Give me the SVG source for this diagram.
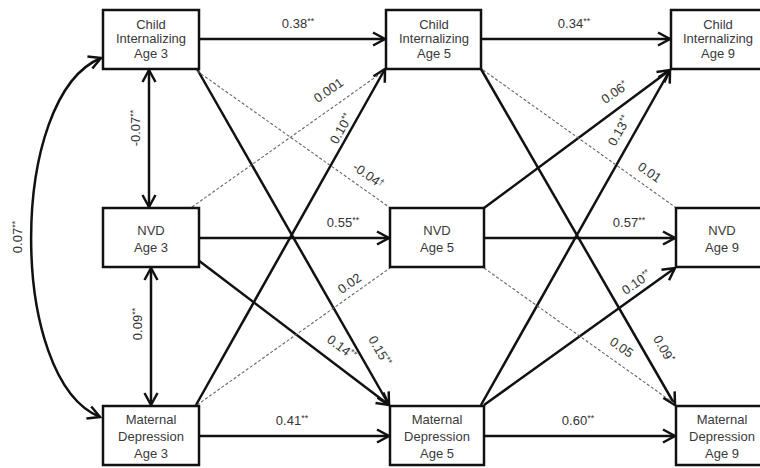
<svg xmlns="http://www.w3.org/2000/svg" width="760" height="468" viewBox="0 0 760 468">
<defs>
<style>
.box{fill:#fff;stroke:#111;stroke-width:2.5}
.bt{font-family:"Liberation Sans",Arial,sans-serif;font-size:13px;fill:#3a3a3a;text-anchor:middle}
.lb{font-family:"Liberation Sans",Arial,sans-serif;font-size:13px;fill:#333;text-anchor:middle}
.sp{font-size:9px}
.s{fill:none;stroke:#111;stroke-width:2.5}
.d{fill:none;stroke:#666;stroke-width:1.1;stroke-dasharray:3 2}
</style>
<marker id="ah" markerUnits="userSpaceOnUse" markerWidth="16" markerHeight="16" refX="13" refY="8" orient="auto-start-reverse">
<path d="M1,1.5 L13,8 L1,14.5" fill="none" stroke="#111" stroke-width="2.5"/>
</marker>
</defs>
<rect width="760" height="468" fill="#fff"/>

<g id="connectors">
<!-- horizontal -->
<line class="s" x1="199" y1="39" x2="385" y2="39" marker-end="url(#ah)"/>
<line class="s" x1="481" y1="39" x2="670" y2="39" marker-end="url(#ah)"/>
<line class="s" x1="199" y1="238" x2="389" y2="238" marker-end="url(#ah)"/>
<line class="s" x1="484" y1="238" x2="675" y2="238" marker-end="url(#ah)"/>
<line class="s" x1="199" y1="436" x2="389" y2="436" marker-end="url(#ah)"/>
<line class="s" x1="484" y1="436" x2="675" y2="436" marker-end="url(#ah)"/>
<!-- covariances -->
<line class="s" x1="149" y1="70" x2="149" y2="207" marker-start="url(#ah)" marker-end="url(#ah)"/>
<line class="s" x1="151" y1="268" x2="151" y2="405" marker-start="url(#ah)" marker-end="url(#ah)"/>
<path class="s" d="M101,58 C8,96 8,380 100,417" marker-start="url(#ah)" marker-end="url(#ah)"/>
<!-- cross-lagged age 3 -> 5 -->
<line class="s" x1="197" y1="69" x2="389" y2="405" marker-end="url(#ah)"/>
<line class="s" x1="196" y1="405" x2="385" y2="69" marker-end="url(#ah)"/>
<line class="s" x1="198" y1="260" x2="389" y2="405" marker-end="url(#ah)"/>
<line class="d" x1="197" y1="71" x2="389" y2="207"/>
<line class="d" x1="192" y1="207" x2="384" y2="71"/>
<line class="d" x1="197" y1="405" x2="390" y2="268"/>
<!-- cross-lagged age 5 -> 9 -->
<line class="s" x1="481" y1="69" x2="675" y2="405" marker-end="url(#ah)"/>
<line class="s" x1="484" y1="208" x2="670" y2="70" marker-end="url(#ah)"/>
<line class="s" x1="481" y1="405" x2="670" y2="70" marker-end="url(#ah)"/>
<line class="s" x1="484" y1="405" x2="675" y2="268" marker-end="url(#ah)"/>
<line class="d" x1="483" y1="70" x2="675" y2="207"/>
<line class="d" x1="484" y1="268" x2="675" y2="404"/>
</g>

<g id="labels">
<text class="lb" x="298" y="28">0.38<tspan class="sp" dy="-4">**</tspan></text>
<text class="lb" x="574" y="28">0.34<tspan class="sp" dy="-4">**</tspan></text>
<text class="lb" x="343" y="227">0.55<tspan class="sp" dy="-4">**</tspan></text>
<text class="lb" x="629" y="227">0.57<tspan class="sp" dy="-4">**</tspan></text>
<text class="lb" x="292" y="425">0.41<tspan class="sp" dy="-4">**</tspan></text>
<text class="lb" x="578" y="425">0.60<tspan class="sp" dy="-4">**</tspan></text>
<text class="lb" transform="translate(140,128) rotate(-90)">-0.07<tspan class="sp" dy="-4">**</tspan></text>
<text class="lb" transform="translate(142,324) rotate(-90)">0.09<tspan class="sp" dy="-4">**</tspan></text>
<text class="lb" transform="translate(22,237) rotate(-90)">0.07<tspan class="sp" dy="-4">**</tspan></text>
<text class="lb" transform="translate(331,94) rotate(-35)">0.001</text>
<text class="lb" transform="translate(345,131) rotate(-60)">0.10<tspan class="sp" dy="-4">**</tspan></text>
<text class="lb" transform="translate(366,179) rotate(35)">-0.04<tspan class="sp" dy="-3">†</tspan></text>
<text class="lb" transform="translate(352,287) rotate(-35)">0.02</text>
<text class="lb" transform="translate(339,351) rotate(37)">0.14<tspan class="sp" dy="-4">**</tspan></text>
<text class="lb" transform="translate(376,353) rotate(60)">0.15<tspan class="sp" dy="-4">**</tspan></text>
<text class="lb" transform="translate(617,96) rotate(-35)">0.06<tspan class="sp" dy="-4">*</tspan></text>
<text class="lb" transform="translate(623,133) rotate(-60)">0.13<tspan class="sp" dy="-4">**</tspan></text>
<text class="lb" transform="translate(647,176) rotate(35)">0.01</text>
<text class="lb" transform="translate(639,286) rotate(-35)">0.10<tspan class="sp" dy="-4">**</tspan></text>
<text class="lb" transform="translate(619,351) rotate(35)">0.05</text>
<text class="lb" transform="translate(660,351) rotate(60)">0.09<tspan class="sp" dy="-4">*</tspan></text>
</g>

<g id="ci3"><rect class="box" x="103" y="10" width="96" height="59"/>
<text class="bt" x="151" y="29">Child</text><text class="bt" x="151" y="43">Internalizing</text><text class="bt" x="151" y="58">Age 3</text></g>
<g id="ci5"><rect class="box" x="386" y="10" width="95" height="59"/>
<text class="bt" x="434" y="29">Child</text><text class="bt" x="434" y="43">Internalizing</text><text class="bt" x="434" y="58">Age 5</text></g>
<g id="ci9"><rect class="box" x="671" y="10" width="96" height="59"/>
<text class="bt" x="718" y="29">Child</text><text class="bt" x="718" y="43">Internalizing</text><text class="bt" x="718" y="58">Age 9</text></g>

<g id="nvd3"><rect class="box" x="103" y="208" width="96" height="59"/>
<text class="bt" x="151" y="235">NVD</text><text class="bt" x="151" y="252">Age 3</text></g>
<g id="nvd5"><rect class="box" x="390" y="208" width="94" height="59"/>
<text class="bt" x="437" y="235">NVD</text><text class="bt" x="437" y="252">Age 5</text></g>
<g id="nvd9"><rect class="box" x="676" y="208" width="94" height="59"/>
<text class="bt" x="722" y="235">NVD</text><text class="bt" x="722" y="252">Age 9</text></g>

<g id="md3"><rect class="box" x="103" y="406" width="96" height="59"/>
<text class="bt" x="151" y="424">Maternal</text><text class="bt" x="151" y="441">Depression</text><text class="bt" x="151" y="458">Age 3</text></g>
<g id="md5"><rect class="box" x="390" y="406" width="94" height="59"/>
<text class="bt" x="437" y="424">Maternal</text><text class="bt" x="437" y="441">Depression</text><text class="bt" x="437" y="458">Age 5</text></g>
<g id="md9"><rect class="box" x="676" y="406" width="94" height="59"/>
<text class="bt" x="722" y="424">Maternal</text><text class="bt" x="722" y="441">Depression</text><text class="bt" x="722" y="458">Age 9</text></g>
</svg>
